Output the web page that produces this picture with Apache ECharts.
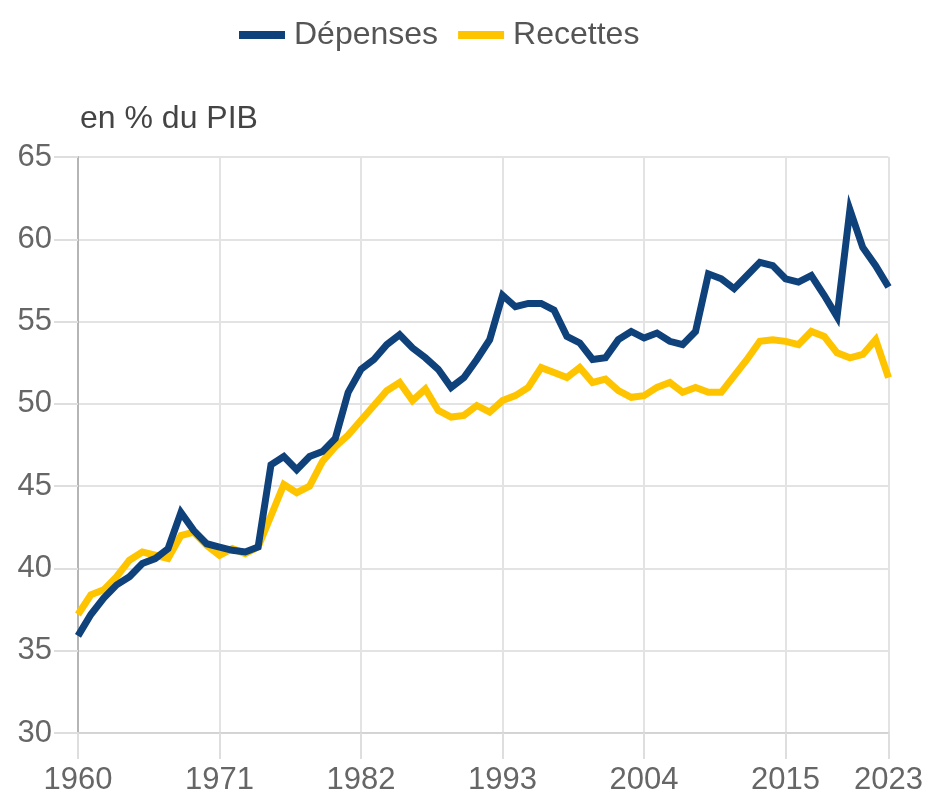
<!DOCTYPE html>
<html>
<head>
<meta charset="utf-8">
<script src="https://cdn.jsdelivr.net/npm/echarts@6/dist/echarts.min.js"></script>
<style>
  html, body { margin: 0; padding: 0; background: #fff; }
  #chart { width: 926px; height: 798px; }
</style>
</head>
<body>
<div id="chart"></div>
<script>
const years = [];
for (let y = 1960; y <= 2023; y++) years.push(y);

const depenses = [
  35.9, 37.2, 38.2, 39.0, 39.5, 40.3, 40.6, 41.2, 43.4, 42.3,
  41.5, 41.3, 41.1, 41.0, 41.3, 46.3, 46.8, 46.0, 46.8, 47.1,
  47.9, 50.7, 52.1, 52.7, 53.6, 54.2, 53.4, 52.8, 52.1, 51.0,
  51.6, 52.7, 53.9, 56.6, 55.9, 56.1, 56.1, 55.7, 54.1, 53.7,
  52.7, 52.8, 53.9, 54.4, 54.0, 54.3, 53.8, 53.6, 54.4, 57.9,
  57.6, 57.0, 57.8, 58.6, 58.4, 57.6, 57.4, 57.8, 56.6, 55.3,
  61.8, 59.5, 58.4, 57.1
];

const recettes = [
  37.2, 38.4, 38.7, 39.5, 40.5, 41.0, 40.8, 40.6, 42.0, 42.2,
  41.4, 40.8, 41.2, 40.9, 41.3, 43.2, 45.1, 44.6, 45.0, 46.5,
  47.4, 48.1, 49.0, 49.9, 50.8, 51.3, 50.2, 50.9, 49.6, 49.2,
  49.3, 49.9, 49.5, 50.2, 50.5, 51.0, 52.2, 51.9, 51.6, 52.2,
  51.3, 51.5, 50.8, 50.4, 50.5, 51.0, 51.3, 50.7, 51.0, 50.7,
  50.7, 51.7, 52.7, 53.8, 53.9, 53.8, 53.6, 54.4, 54.1, 53.1,
  52.8, 53.0, 53.9, 51.6
];

const seriesNames = ['Dépenses', 'Recettes'];
const colors = ['#0f417b', '#ffc400'];

const chart = echarts.init(document.getElementById('chart'), null, { renderer: 'canvas' });

const font = '"Liberation Sans", Arial, Helvetica, sans-serif';

const option = {
  animation: false,
  color: colors,
  textStyle: { fontFamily: font },
  legend: {
    data: seriesNames,
    top: 14,
    left: 234,
    icon: 'rect',
    itemWidth: 46,
    itemHeight: 8,
    itemGap: 20,
    textStyle: { fontSize: 32, color: '#555', fontFamily: font, padding: [0, 0, 0, 4] }
  },
  grid: {
    left: 78,
    right: 36,
    top: 157,
    bottom: 65,
    containLabel: false
  },
  xAxis: {
    type: 'value',
    min: 1960,
    max: 2023,
    interval: 11,
    axisLine: { show: true, onZero: false, lineStyle: { color: '#d4d4d4', width: 2 } },
    axisTick: { show: true, length: 26, lineStyle: { color: '#dedede', width: 2 } },
    axisLabel: {
      fontSize: 31, color: '#666', margin: 32, fontFamily: font,
      formatter: v => String(v)
    },
    splitLine: { show: true, lineStyle: { color: '#e3e3e3', width: 2 } }
  },
  yAxis: {
    type: 'value',
    min: 30,
    max: 65,
    interval: 5,
    name: 'en % du PIB',
    nameLocation: 'end',
    nameGap: 22,
    nameTextStyle: { fontSize: 32, color: '#444', align: 'left', padding: [0, 0, 0, 2], fontFamily: font },
    axisLine: { show: true, lineStyle: { color: '#b5b5b5', width: 2 } },
    axisTick: { show: true, length: 24, lineStyle: { color: '#dedede', width: 2 } },
    axisLabel: { fontSize: 31, color: '#666', margin: 26, fontFamily: font },
    splitLine: { show: true, lineStyle: { color: '#e3e3e3', width: 2 } }
  },
  series: [
    {
      name: 'Dépenses',
      type: 'line',
      z: 3,
      showSymbol: false,
      data: years.map((y, i) => [y, depenses[i]]),
      lineStyle: { width: 7, color: colors[0], join: 'miter' }
    },
    {
      name: 'Recettes',
      type: 'line',
      z: 2,
      showSymbol: false,
      data: years.map((y, i) => [y, recettes[i]]),
      lineStyle: { width: 7, color: colors[1], join: 'miter' }
    }
  ]
};

chart.setOption(option);
</script>
</body>
</html>
